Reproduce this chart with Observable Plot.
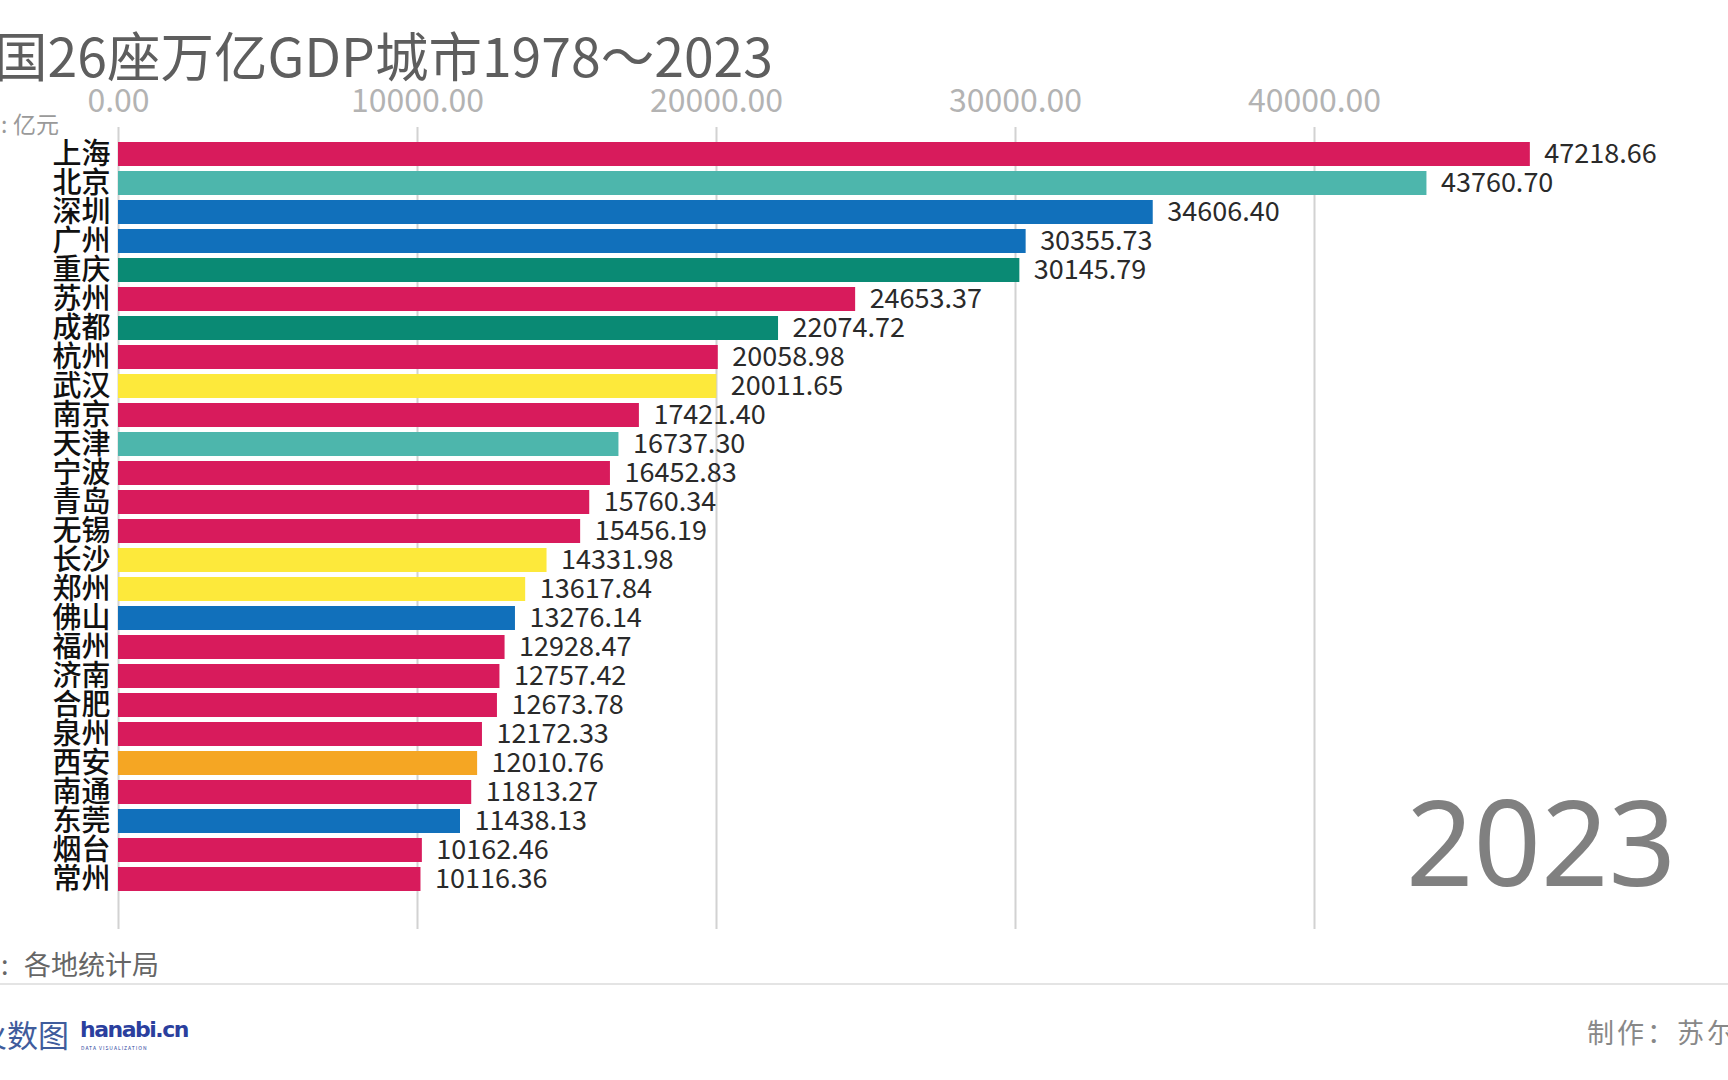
<!DOCTYPE html>
<html>
<head>
<meta charset="utf-8">
<script src="https://cdn.jsdelivr.net/npm/d3@7"></script>
<script src="https://cdn.jsdelivr.net/npm/@observablehq/plot@0.6"></script>
<style>
  html, body { margin: 0; padding: 0; background: #fff; }
  body { width: 1728px; height: 1080px; position: relative; overflow: hidden;
         font-family: "Noto Sans CJK SC", "Noto Sans", sans-serif; }
  .abs { position: absolute; white-space: nowrap; line-height: 1; }
  #title { left: -6px; top: 30px; font-size: 53.5px; line-height: 0.9; color: #5e5e5e; }
  #unitc { left: 1px; top: 112px; font-size: 23px; color: #9a9a9a; }
  #unit { left: 13px; top: 112px; font-size: 23px; color: #9a9a9a; }
  #chart { position: absolute; left: 0; top: 60px; }
  #year { right: 52px; top: 782px; font-size: 118px; color: #808080; font-family: "Noto Sans", sans-serif; }
  #sourcec { left: 1px; top: 950px; font-size: 27px; color: #666; }
  #source { left: 24px; top: 950px; font-size: 27px; color: #666; }
  #sep { position: absolute; left: 0; top: 983px; width: 1728px; height: 2px; background: #e4e4e4; }
  #logo1 { left: -24px; top: 1018px; font-size: 31px; color: #3f5c9c; }
  #logo2 { left: 80px; top: 1019px; font-size: 22px; font-weight: bold; color: #2b3f9e; font-family: "DejaVu Sans", sans-serif; letter-spacing: -1.5px; }
  #logo3 { left: 81px; top: 1045px; font-size: 5px; color: #2b3f9e; letter-spacing: 1px; }
  #maker { left: 1587px; top: 1018px; font-size: 27px; color: #888; letter-spacing: 3px; }
</style>
</head>
<body>
<div id="title" class="abs">国26座万亿GDP城市1978～2023</div>
<div id="unitc" class="abs">:</div>
<div id="unit" class="abs">亿元</div>
<div id="chart"></div>
<div id="year" class="abs">2023</div>
<div id="sourcec" class="abs">:</div>
<div id="source" class="abs">各地统计局</div>
<div id="sep"></div>
<div id="logo1" class="abs">火数图</div>
<div id="logo2" class="abs">hanabi.cn</div>
<div id="logo3" class="abs">DATA VISUALIZATION</div>
<div id="maker" class="abs">制作：苏尔</div>
<script>
const cities = ["上海","北京","深圳","广州","重庆","苏州","成都","杭州","武汉","南京","天津","宁波","青岛","无锡","长沙","郑州","佛山","福州","济南","合肥","泉州","西安","南通","东莞","烟台","常州"];
const gdp = [47218.66,43760.70,34606.40,30355.73,30145.79,24653.37,22074.72,20058.98,20011.65,17421.40,16737.30,16452.83,15760.34,15456.19,14331.98,13617.84,13276.14,12928.47,12757.42,12673.78,12172.33,12010.76,11813.27,11438.13,10162.46,10116.36];
const regions = ["华东","华北","华南","华南","西南","华东","西南","华东","华中","华东","华北","华东","华东","华东","华中","华中","华南","华东","华东","华东","华东","西北","华东","华南","华东","华东"];
const regionNames = ["华东","华北","华南","西南","华中","西北"];
const regionColors = ["#d81b5c","#4db6ac","#1170bb","#0a8a74","#fde93b","#f5a623"];
const tickValues = [0,10000,20000,30000,40000];

const data = cities.map((c, i) => ({city: c, gdp: gdp[i], region: regions[i]}));

const chart = Plot.plot({
  width: 1728,
  height: 880,
  marginLeft: 118,
  marginRight: 115,
  marginTop: 67,
  marginBottom: 11,
  style: {fontFamily: "'Noto Sans CJK SC', 'Noto Sans', sans-serif", background: "transparent", overflow: "visible"},
  x: {domain: [0, 50000], axis: null},
  y: {domain: cities, axis: null, paddingInner: 0.183, paddingOuter: 0.75, align: 0.273},
  color: {domain: regionNames, range: regionColors},
  marks: [
    Plot.ruleX(tickValues, {stroke: "#d2d2d2", strokeWidth: 2}),
    Plot.axisX({anchor: "top", ticks: tickValues, tickSize: 0, tickPadding: 16, fontSize: 32, fill: "#b3b3b3",
                tickFormat: d => d.toFixed(2), label: null}),
    Plot.barX(data, {x: "gdp", y: "city", fill: "region"}),
    Plot.text(data, {x: 0, y: "city", text: "city", textAnchor: "end", dx: -8, fontSize: 29, fontWeight: 500, fill: "#111"}),
    Plot.text(data, {x: "gdp", y: "city", text: d => d.gdp.toFixed(2), textAnchor: "start", dx: 14, fontSize: 27, fill: "#2a2a2a"})
  ]
});
document.getElementById("chart").appendChild(chart);
</script>
</body>
</html>
